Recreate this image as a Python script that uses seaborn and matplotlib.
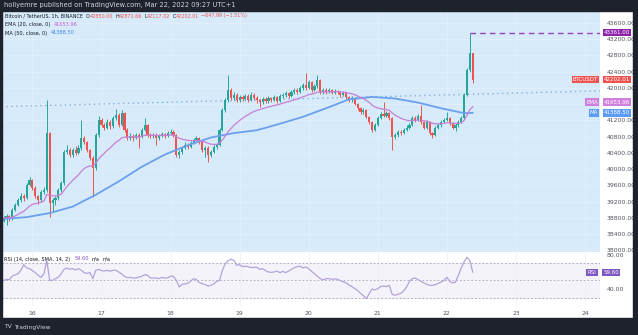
import numpy as np
import pandas as pd
import seaborn as sns
import matplotlib
matplotlib.use("Agg")
import matplotlib.pyplot as plt
from matplotlib import transforms
from matplotlib.patches import Rectangle

sns.set_theme(style="white")
plt.rcParams["font.family"] = ["DejaVu Sans"]

# ---------------- data ----------------
start_day = 15 + 14 / 24          # first candle: Mar 15, 14:00 (1h candles)
first_open = 38720.0
closes = [
    38800, 38850, 38770, 39000, 39120, 39240, 39340, 39290, 39610, 39730,
    39540, 39340, 39240, 39440, 39490, 40890, 39170, 39240, 39290, 39490,
    39660, 40420, 40470, 40350, 40470, 40400, 40520, 40770, 40670, 40470,
    40280, 40030, 40840, 41210, 41090, 41020, 41160, 41060, 41260, 41340,
    41090, 41380, 40970, 40770, 40820, 40770, 40840, 40790, 40970, 41090,
    40840, 40820, 40840, 40770, 40820, 40870, 40820, 40890, 40920, 40840,
    40350, 40420, 40520, 40600, 40550, 40650, 40720, 40770, 40670, 40470,
    40520, 40350, 40420, 40550, 40600, 40970, 41460, 41700, 41950, 41750,
    41830, 41700, 41780, 41730, 41800, 41700, 41830, 41750, 41700, 41650,
    41730, 41680, 41750, 41700, 41780, 41680, 41800, 41830, 41880, 41800,
    41900, 41950, 41900, 42000, 42070, 42000, 42150, 41950, 42050, 42200,
    41900, 41950, 41900, 41950, 41880, 41930, 41900, 41830, 41880, 41780,
    41700, 41750, 41610, 41510, 41410, 41460, 41290, 41160, 40970, 41090,
    41260, 41360, 41310, 41380, 41260, 40790, 40840, 40920, 40890, 40970,
    41020, 41090, 41260, 41210, 41310, 41160, 41020, 41160, 40890, 40840,
    41020, 41090, 41160, 41210, 41260, 41140, 41020, 41090, 41160, 41260,
    41830, 42440, 42850, 42202.01,
]
highs = [
    38840, 38900, 38880, 39040, 39160, 39300, 39420, 39380, 39650, 39800,
    39760, 39580, 39370, 39480, 39560, 41700, 40920, 39300, 39350, 39540,
    39720, 40480, 40600, 40520, 40530, 40560, 40600, 41210, 40820, 40700,
    40500, 40330, 40880, 41300, 41260, 41140, 41230, 41200, 41310, 41480,
    41380, 41470, 41420, 41010, 40880, 40860, 40900, 40880, 41020, 41250,
    41120, 40880, 40890, 40880, 40870, 40920, 40900, 40940, 41000, 40960,
    40870, 40470, 40570, 40660, 40640, 40700, 40780, 40820, 40800, 40700,
    40570, 40560, 40470, 40600, 40650, 41020, 41500, 41760, 42320, 41990,
    41890, 41870, 41830, 41820, 41850, 41840, 41900, 41870, 41800, 41740,
    41780, 41770, 41800, 41790, 41830, 41810, 41850, 41880, 41930, 41910,
    41950, 42010, 41990, 42060, 42130, 42370, 42200, 42180, 42100, 42330,
    42230, 42000, 41990, 42000, 41980, 41980, 41960, 41930, 41920, 41900,
    41800, 41800, 41770, 41640, 41540, 41510, 41490, 41320, 41190, 41140,
    41310, 41420, 41660, 41430, 41410, 41290, 40900, 40970, 40960, 41020,
    41080, 41140, 41310, 41300, 41360, 41580, 41190, 41200, 41190, 40920,
    41070, 41140, 41210, 41270, 41400, 41290, 41170, 41140, 41210, 41310,
    41870, 42500, 43361, 42871.66,
]
lows = [
    38690, 38630, 38720, 38750, 38960, 39090, 39200, 39220, 39270, 39580,
    39500, 39300, 39150, 39200, 39400, 39450, 38820, 38980, 39120, 39250,
    39450, 39620, 40380, 40300, 40300, 40350, 40370, 40480, 40620, 40420,
    40230, 39320, 39980, 40800, 41030, 40960, 40990, 41000, 41020, 41220,
    41050, 41060, 40920, 40720, 40730, 40700, 40740, 40520, 40760, 40940,
    40800, 40780, 40760, 40600, 40730, 40790, 40780, 40790, 40850, 40800,
    40300, 40280, 40380, 40490, 40500, 40520, 40610, 40690, 40630, 40420,
    40300, 40180, 40300, 40390, 40500, 40560, 40930, 41420, 41660, 41700,
    41700, 41650, 41660, 41690, 41700, 41660, 41670, 41700, 41640, 41530,
    41610, 41640, 41640, 41660, 41670, 41640, 41650, 41760, 41790, 41760,
    41770, 41860, 41860, 41870, 41960, 41960, 41970, 41900, 41920, 42010,
    41860, 41860, 41860, 41870, 41840, 41850, 41860, 41790, 41800, 41740,
    41650, 41660, 41570, 41470, 41360, 41370, 41250, 41110, 40920, 40940,
    41060, 41230, 41280, 41280, 41220, 40470, 40740, 40800, 40850, 40860,
    40940, 40990, 41060, 41170, 41180, 41120, 40980, 40990, 40850, 40770,
    40810, 40990, 41050, 41130, 41180, 41100, 40980, 40940, 41040, 41130,
    41220, 41800, 42400, 42117.02,
]
rsi_values = [
    49.8, 51.4, 51.0, 55.3, 56.5, 58.0, 62.0, 68.6, 64.7, 63.9,
    61.6, 59.2, 56.1, 53.7, 58.0, 73.7, 50.2, 50.2, 52.2, 53.7,
    58.0, 63.1, 64.7, 63.1, 63.9, 62.4, 63.9, 62.0, 59.2, 58.4,
    59.2, 52.2, 62.0, 63.1, 61.6, 61.2, 62.0, 60.8, 62.0, 62.0,
    60.0, 57.7, 54.9, 53.3, 53.7, 52.9, 52.9, 54.1, 54.9, 56.9,
    56.1, 52.9, 52.9, 52.9, 52.2, 53.7, 52.9, 52.9, 55.3, 54.9,
    50.2, 42.4, 45.5, 45.9, 46.7, 49.4, 52.2, 51.0, 47.5, 46.3,
    45.1, 43.5, 44.3, 45.9, 49.0, 50.2, 62.0, 69.8, 73.3, 74.9,
    73.7, 67.8, 68.6, 66.3, 66.7, 66.3, 65.1, 65.5, 65.5, 63.1,
    63.9, 61.6, 60.0, 59.6, 60.0, 61.2, 59.2, 60.8, 59.2, 61.2,
    63.1, 65.1, 66.3, 66.7, 64.7, 65.9, 63.9, 60.8, 58.0, 54.9,
    52.2, 50.6, 52.2, 52.2, 51.4, 51.8, 51.4, 49.8, 48.6, 47.1,
    44.7, 42.8, 40.4, 38.1, 34.9, 32.2, 28.6, 34.5, 40.0, 38.8,
    40.4, 43.1, 43.5, 42.8, 44.3, 33.7, 32.6, 33.7, 34.9, 37.7,
    42.4, 49.0, 52.2, 52.9, 51.0, 49.0, 47.1, 45.5, 44.3, 44.3,
    45.1, 46.7, 48.2, 50.2, 53.7, 49.0, 47.1, 48.2, 56.1, 64.7,
    72.2, 77.3, 73.3, 59.6,
]
ma50_hours = [0, 8, 16, 24, 32, 40, 48, 56, 64, 72, 80, 88, 96, 104, 112,
              120, 128, 136, 144, 152, 160, 163]
ma50_values = [38775, 38820, 38920, 39080, 39370, 39700, 40060, 40360, 40590,
               40780, 40890, 40960, 41120, 41290, 41500, 41720, 41780, 41740,
               41640, 41500, 41380, 41388.50]
trend_days = [15.5523, 24.2166]
trend_prices = [41540, 41930]
high_mark = 43361.00
ema_last = 41653.96
ma_last = 41388.50
last_close = 42202.01
rsi_last = 59.60
day_ticks = [16, 17, 18, 19, 20, 21, 22, 23, 24]
price_ticks = list(range(38000, 43601, 400))
hidden_price_labels = [41600]      # covered by the EMA / MA badges in the reference
rsi_ticks = [80, 40]
rsi_levels = [70, 50, 30]

# ---------------- derived ----------------
n = len(closes)
t = start_day + np.arange(n) / 24.0
c = np.array(closes, float)
o = np.r_[first_open, c[:-1]]
h = np.array(highs, float)
l = np.array(lows, float)
ema20 = pd.Series(c).ewm(span=20, adjust=False).mean().values
df = pd.DataFrame({"t": t, "ema": ema20, "rsi": rsi_values})
ma_df = pd.DataFrame({"t": start_day + np.array(ma50_hours) / 24.0, "ma": ma50_values})

UP, DOWN = "#26a69a", "#ef5350"
EMA_C, MA_C = "#c77fd6", "#6aa0ee"
BG = "#d6eaf9"
DARK = "#1e222d"

W, H = 638, 335
fig = plt.figure(figsize=(W / 100, H / 100), dpi=100, facecolor="white")


def fr(x0, y0, x1, y1):
    return [x0 / W, 1 - y1 / H, (x1 - x0) / W, (y1 - y0) / H]


ax = fig.add_axes(fr(1.5, 11, 600, 252))
rax = fig.add_axes(fr(1.5, 252, 600, 305), sharex=ax)

# frame bands
for rect in [(0, 0, W, 11), (0, 318, W, 335), (0, 0, 1.5, 335), (633, 0, 638, 335)]:
    x0, y0, x1, y1 = rect
    fig.patches.append(Rectangle((x0 / W, 1 - y1 / H), (x1 - x0) / W, (y1 - y0) / H,
                                 transform=fig.transFigure, color=DARK, zorder=5))

# ---------------- main pane ----------------
ax.set_facecolor(BG)
up = c >= o
cols = np.where(up, UP, DOWN)
ax.vlines(t, l, h, colors=cols, linewidth=0.7, zorder=3)
body_lo = np.minimum(o, c)
body_h = np.maximum(np.abs(c - o), 18)
ax.bar(t, body_h, bottom=body_lo, width=0.031, color=cols, linewidth=0, zorder=4)

sns.lineplot(data=ma_df, x="t", y="ma", ax=ax, color=MA_C, linewidth=1.3, zorder=5)
sns.lineplot(data=df, x="t", y="ema", ax=ax, color=EMA_C, linewidth=0.9, zorder=5)
ax.plot(trend_days, trend_prices, color="#86aedf", linewidth=1.0,
        linestyle=(0, (1, 2.5)), zorder=2)
ax.hlines(high_mark, t[-2], trend_days[1], colors="#9c3fc0", linewidth=1.0,
          linestyles=(0, (4, 3)), zorder=5)

ax.set_xlim(trend_days[0], trend_days[1])
ax.set_ylim(37962, 43895)
ax.set_xticks(day_ticks)
ax.set_yticks(price_ticks)
ax.set_yticklabels(["" if v in hidden_price_labels else f"{v:.2f}" for v in price_ticks])
ax.yaxis.tick_right()
ax.tick_params(axis="y", labelsize=4.4, colors="#50535e", length=0, pad=5)
ax.tick_params(axis="x", labelbottom=False, length=0)
ax.grid(True, color="#e3eff9", linewidth=0.6)
ax.set_xlabel("")
ax.set_ylabel("")
for s in ax.spines.values():
    s.set_visible(False)

# ---------------- RSI pane ----------------
rax.set_facecolor("white")
rax.axhspan(rsi_levels[-1], rsi_levels[0], color="#7e57c2", alpha=0.07, zorder=0)
for lv in rsi_levels:
    rax.axhline(lv, color="#a9a3b8", linewidth=0.6, linestyle=(0, (2, 2.5)), zorder=1)
sns.lineplot(data=df, x="t", y="rsi", ax=rax, color="#b3a3d9", linewidth=0.9, zorder=3)
rax.set_ylim(21.2, 83.5)
rax.set_yticks(rsi_ticks)
rax.set_yticklabels([f"{v:.2f}" for v in rsi_ticks])
rax.yaxis.tick_right()
rax.set_xticks(day_ticks)
rax.set_xticklabels([str(d) for d in day_ticks])
rax.tick_params(axis="y", labelsize=4.4, colors="#50535e", length=0, pad=5)
rax.tick_params(axis="x", labelsize=4.4, colors="#50535e", length=0, pad=4)
rax.grid(True, axis="x", color="#eef0f4", linewidth=0.6)
rax.set_xlabel("")
rax.set_ylabel("")
for s in rax.spines.values():
    s.set_visible(False)
rax.set_xlim(trend_days[0], trend_days[1])

# ---------------- badges ----------------
def badge(a, y, txt, color, x_px, fs=4.0):
    tr = transforms.blended_transform_factory(fig.transFigure, a.transData)
    a.text(x_px / W, y, txt, transform=tr, ha="center", va="center", fontsize=fs,
           color="white", clip_on=False, zorder=10,
           bbox=dict(boxstyle="square,pad=0.22", fc=color, ec="none"))

badge(ax, high_mark, f"{high_mark:.2f}", "#8e24aa", 617)
badge(ax, last_close, "BTCUSDT", "#ef5350", 585.5)
badge(ax, last_close, f"{last_close:.2f}", "#ef5350", 617)
badge(ax, ema_last, "EMA", "#cf7fdc", 592)
badge(ax, ema_last, f"{ema_last:.2f}", "#cf7fdc", 617)
badge(ax, ma_last, "MA", "#5b9cf6", 594)
badge(ax, ma_last, f"{ma_last:.2f}", "#5b9cf6", 617)
badge(rax, rsi_last, "RSI", "#7e57c2", 592)
badge(rax, rsi_last, f"{rsi_last:.2f}", "#7e57c2", 611)

# ---------------- texts ----------------
fig.canvas.draw()
renderer = fig.canvas.get_renderer()


def seq_text(y_px, pieces, x0=5, fs=3.6):
    x = x0
    for s, col, gap in pieces:
        tx = fig.text(x / W, 1 - y_px / H, s, color=col, fontsize=fs,
                      va="center", ha="left", zorder=20)
        bb = tx.get_window_extent(renderer=renderer)
        x += bb.width + gap


TXT = "#131722"
RED = "#ef5350"
seq_text(5.5, [("hollyemre published on TradingView.com, Mar 22, 2022 09:27 UTC+1", "#d1d4dc", 0)], x0=4, fs=4.8)
seq_text(16, [("Bitcoin / TetherUS, 1h, BINANCE", TXT, 3),
              ("O", TXT, 0), ("42850.00", RED, 2),
              ("H", TXT, 0), ("42871.66", RED, 2),
              ("L", TXT, 0), ("42117.02", RED, 2),
              ("C", TXT, 0), ("42202.01", RED, 2),
              ("\u2212647.99 (\u22121.51%)", RED, 0)], fs=3.5)
seq_text(24.5, [("EMA (20, close, 0)", TXT, 4), (f"{ema_last:.2f}", "#c45fd6", 0)])
seq_text(33, [("MA (50, close, 0)", TXT, 4), (f"{ma_last:.2f}", "#3d85f0", 0)])
seq_text(259, [("RSI (14, close, SMA, 14, 2)", TXT, 4), (f"{rsi_last:.2f}", "#7e57c2", 3),
               ("n/a", TXT, 3), ("n/a", TXT, 0)], x0=4)
seq_text(327, [("TV", "#d1d4dc", 2), ("TradingView", "#d1d4dc", 0)], x0=4, fs=4.3)

fig.savefig("out.png", dpi=100, facecolor="white")
